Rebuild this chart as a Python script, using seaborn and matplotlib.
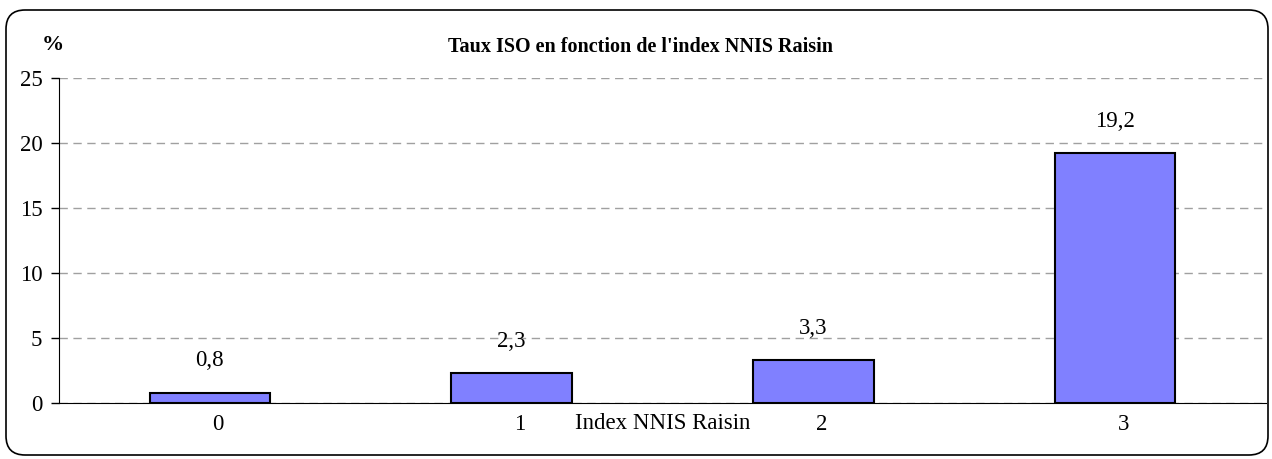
import seaborn as sns
import matplotlib.pyplot as plt
import matplotlib.transforms as mtransforms
import pandas as pd
from matplotlib.patches import FancyBboxPatch

# data
index_nnis = ['0', '1', '2', '3']
taux_iso = [0.8, 2.3, 3.3, 19.2]
value_labels = ['0,8', '2,3', '3,3', '19,2']

sns.set_style("white")
plt.rcParams['font.family'] = ['Liberation Serif', 'DejaVu Serif']
plt.rcParams['text.color'] = 'black'
plt.rcParams['xtick.color'] = 'black'
plt.rcParams['ytick.color'] = 'black'

df = pd.DataFrame({'index': index_nnis, 'taux': taux_iso})

fig = plt.figure(figsize=(12.72, 4.59), dpi=100)
ax = fig.add_axes([59 / 1272, 1 - 403 / 459, (1266 - 59) / 1272, (403 - 78) / 459])

sns.barplot(data=df, x='index', y='taux', color='#8080FF', saturation=1,
            width=0.4, edgecolor='black', linewidth=1.5, ax=ax, zorder=3)

for i, (v, lab) in enumerate(zip(taux_iso, value_labels)):
    ax.text(i, v + 2.45, lab, ha='center', va='center', fontsize=16.5)

ax.set_ylim(0, 25)
ax.set_xlim(-0.5, 3.5)
ax.set_yticks(range(0, 26, 5))
ax.yaxis.grid(True, linestyle=(0, (6, 4)), color='#a0a0a0', linewidth=1, zorder=0)
ax.tick_params(axis='y', left=True, length=6, width=1, color='black', labelsize=16.5, pad=6)
ax.tick_params(axis='x', bottom=False, labelsize=16.5, pad=4.5)
for s in ['top', 'right']:
    ax.spines[s].set_visible(False)
ax.spines['left'].set_color('black')
ax.spines['bottom'].set_color('black')
ax.set_xlabel('')
ax.set_ylabel('')

# Excel-style: category labels sit a little right of the bar centres
shift = mtransforms.ScaledTranslation(8 / 100, 0, fig.dpi_scale_trans)
for lbl in ax.get_xticklabels():
    lbl.set_transform(lbl.get_transform() + shift)

# x axis title sits between ticks 1 and 2
ax.text(1.5, -20.5 / 325, 'Index NNIS Raisin', transform=ax.get_xaxis_transform(),
        ha='center', va='center', fontsize=16.5)

fig.text(640 / 1272, 1 - 47 / 459, "Taux ISO en fonction de l'index NNIS Raisin",
         ha='center', va='center', fontsize=14.5, fontweight='bold')
fig.text(53 / 1272, 1 - 45 / 459, '%', ha='center', va='center', fontsize=16, fontweight='bold')

frame = FancyBboxPatch((6 / 1272, 4 / 459), 1262 / 1272, 445 / 459,
                       boxstyle='round,pad=0,rounding_size=0.015', transform=fig.transFigure,
                       fill=False, edgecolor='black', linewidth=1.2,
                       mutation_aspect=1272 / 459)
fig.patches.append(frame)

fig.savefig('out.png', dpi=100)
